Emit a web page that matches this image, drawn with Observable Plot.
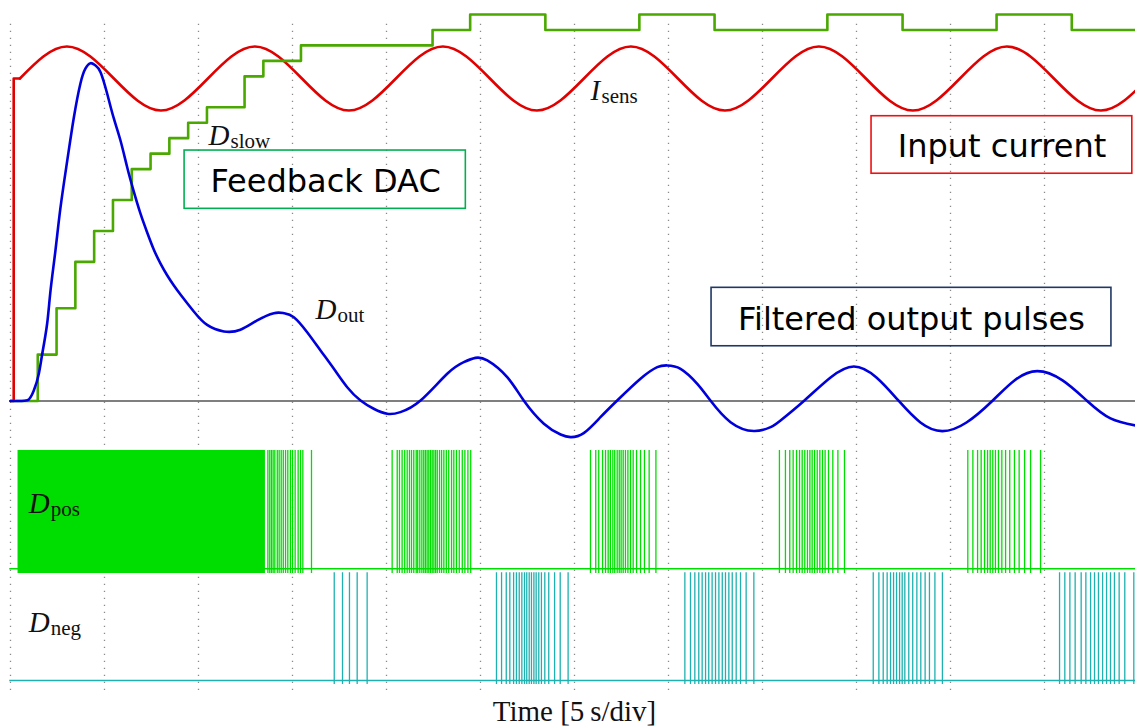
<!DOCTYPE html>
<html><head><meta charset="utf-8">
<script src="https://cdn.jsdelivr.net/npm/d3@7"></script>
<script src="https://cdn.jsdelivr.net/npm/@observablehq/plot@0.6"></script>
<style>html,body{margin:0;padding:0;background:#fff;overflow:hidden;}</style>
</head><body><div id="chart"></div>
<script>
// time in seconds (5 s per division), amplitude in DAC code units
const gridTicks = [0,5,10,15,20,25,30,35,40,45,50,55];

const iSensStart = [[0,0],[0.17,0],[0.17,20.86],[0.5,20.86]];
const iSens = [[0.5,20.86],[3,22.93],[5.5,20.86],[8,18.79],[10.5,20.86],[13,22.93],[15.5,20.86],[18,18.79],
  [20.5,20.86],[23,22.93],[25.5,20.86],[28,18.79],[30.5,20.86],[33,22.93],[35.5,20.86],[38,18.79],
  [40.5,20.86],[43,22.93],[45.5,20.86],[48,18.79],[50.5,20.86],[53,22.93],[55.5,20.86],[58,18.79],[60.5,20.86]];

const dSlow = [[0,0],[1.45,3],[2.45,6],[3.45,9],[4.45,11],[5.45,13],[6.45,15],[7.45,16],[8.45,17],[9.45,18],
  [10.45,19],[12.45,21],[13.45,22],[15.45,23],[22.45,24],[24.45,25],[28.45,24],[33.45,25],[37.45,24],
  [43.45,25],[47.45,24],[52.45,25],[56.45,24],[59.84,24]];

const dOutRise = [[0,0],[0.6,0],[0.9,0.05],[1.24,0.68],[1.51,1.78],[1.69,3.07]];
const dOut = [[1.69,3.07],[1.95,5.01],[2.13,7.15],[2.39,9.73],
  [2.66,12.52],[3.02,15.56],[3.37,18.34],[3.72,20.54],[3.99,21.51],[4.26,21.85],[4.52,21.7],[4.79,21.27],
  [5.14,19.89],[5.48,18.34],[5.85,16.85],[6.21,15.1],[6.54,13.62],[6.91,12.13],[7.27,10.9],[7.62,9.8],
  [7.98,8.89],[8.34,8.12],[8.69,7.47],[9.04,6.89],[9.75,5.79],[10.46,4.92],[11.35,4.5],[12.23,4.61],[13.12,5.21],[14.01,5.68],
  [14.54,5.68],[15.07,5.42],[15.78,4.45],[16.49,3.27],[17.2,2.08],[17.91,0.89],[18.62,0.03],[19.32,-0.5],
  [20.04,-0.83],[20.74,-0.72],[21.81,0.03],[23.23,1.76],[24.11,2.51],[24.73,2.79],[25.36,2.62],[26.42,1.54],
  [27.3,0.03],[28.37,-1.47],[29.26,-2.17],[29.79,-2.34],[30.49,-2.08],[31.38,-1.05],[32.27,0.03],[33.51,1.44],
  [34.4,2.19],[34.93,2.3],[35.64,2.08],[36.53,1.11],[37.23,0.03],[38.3,-1.37],[39.54,-1.94],[40.43,-1.69],
  [40.96,-1.26],[42.2,0],[43.62,1.52],[44.86,2.23],[46.06,1.52],[47.25,0],[48.4,-1.39],[49.56,-1.95],
  [50.85,-1.39],[52.22,0],[53.4,1.33],[54.61,1.93],[55.96,1.33],[57.27,0],[58.51,-1.13],[59.84,-1.58]];

const posDense = [[0.4,13.56]];
const posPulses = [
  13.69,13.79,13.88,13.97,14.06,14.19,14.29,14.40,14.51,14.63,14.75,14.89,15.0,15.14,15.30,15.43,15.55,16.01,
  20.30,20.57,20.69,20.83,20.97,21.10,21.22,21.33,21.45,21.58,21.66,21.77,21.88,21.98,22.07,22.16,22.25,22.34,
  22.43,22.52,22.61,22.70,22.82,22.93,23.05,23.18,23.31,23.46,23.58,23.72,23.87,24.03,24.17,24.33,24.48,
  30.85,31.13,31.29,31.49,31.65,31.79,31.91,32.04,32.14,32.27,32.38,32.48,32.59,32.71,32.84,32.98,33.12,33.30,
  33.51,33.72,33.97,34.33,
  40.90,41.22,41.45,41.63,41.81,41.97,42.11,42.25,42.39,42.52,42.64,42.77,42.91,43.05,43.19,43.33,43.51,43.74,
  44.01,44.36,
  50.92,51.19,51.44,51.63,51.81,51.97,52.11,52.25,52.39,52.55,52.73,52.93,53.15,53.40,53.65,53.94,54.26,54.79];
const negPulses = [
  17.22,17.66,18.03,18.44,18.97,
  25.85,26.12,26.37,26.56,26.76,26.91,27.06,27.20,27.34,27.46,27.59,27.71,27.84,27.96,28.10,28.24,28.42,28.63,
  28.94,29.24,29.66,
  35.87,36.17,36.40,36.61,36.79,36.97,37.14,37.32,37.50,37.68,37.86,38.03,38.21,38.39,38.60,38.83,39.13,39.54,
  45.89,46.19,46.42,46.63,46.81,46.97,47.13,47.29,47.43,47.57,47.78,47.99,48.21,48.42,48.65,48.88,49.17,49.57,
  55.80,56.08,56.35,56.63,56.95,57.20,57.45,57.66,57.87,58.09,58.30,58.51,58.72,58.97,59.27,59.75];

const boxTexts = ["Feedback DAC", "Input current", "Filtered output pulses"];
const boxAnchors = [[16.76,13.51],[52.74,15.77],[47.92,4.61]];
const boxExtents = [[9.26,24.22,12.43,16.2],[45.8,59.67,14.7,18.42],[37.29,58.56,3.54,7.32]];
const boxColors = ["#00b050","#ee1111","#1f3864"];

const mathMain = ["D","I","D","D","D"];
const mathSub = ["slow","sens","out","pos","neg"];
const mathAnchors = [[10.53,16.53],[30.85,19.47],[16.22,5.32],[0.97,-7.26],[0.97,-14.95]];

const xLabel = "Time [5\u2009s/div]";

// layout constants
const lanePos = {base:-10.85, lo:-11.16, hi:-3.2};
const laneNeg = {base:-18.08, lo:-18.34, hi:-11.11};
const gridSpan = {lo:-18.73, hi:24.61};

const boxes = boxTexts.map((text,i)=>({text, t:boxAnchors[i][0], v:boxAnchors[i][1],
  t1:boxExtents[i][0], t2:boxExtents[i][1], v1:boxExtents[i][2], v2:boxExtents[i][3], color:boxColors[i]}));
const labels = mathMain.map((m,i)=>({main:m, sub:mathSub[i], t:mathAnchors[i][0], v:mathAnchors[i][1]}));
const serif = "'Liberation Serif', 'DejaVu Serif', serif";
const sans = "'DejaVu Sans', Verdana, sans-serif";
const subStyle = {x: "t", y: "v", text: "sub", fontSize: 21, fontFamily: serif, fill: "#111", textAnchor: "start", lineAnchor: "bottom", dy: 3};

const chart = Plot.plot({
  width: 1135, height: 727,
  marginLeft: 10, marginRight: 0, marginTop: 0, marginBottom: 0,
  x: {domain: [0, 59.84], axis: null},
  y: {domain: [-21.12, 25.905], axis: null},
  marks: [
    Plot.ruleX(gridTicks, {x: d=>d, y1: gridSpan.lo, y2: gridSpan.hi, stroke: "#8a8a8a", strokeWidth: 1.3, strokeDasharray: "1.3,5.7"}),
    Plot.ruleY([0], {stroke: "#555", strokeWidth: 1.3}),
    Plot.line(iSensStart, {x: d=>d[0], y: d=>d[1], stroke: "#e00000", strokeWidth: 2.6}),
    Plot.line(iSens, {x: d=>d[0], y: d=>d[1], stroke: "#e00000", strokeWidth: 2.6, curve: "natural", clip: true}),
    Plot.line(dSlow, {x: d=>d[0], y: d=>d[1], stroke: "#4aa800", strokeWidth: 2.6, curve: "step-after"}),
    Plot.line(dOutRise, {x: d=>d[0], y: d=>d[1], stroke: "#0000dd", strokeWidth: 2.6, curve: "monotone-x"}),
    Plot.line(dOut, {x: d=>d[0], y: d=>d[1], stroke: "#0000dd", strokeWidth: 2.6, curve: "natural"}),
    // pulse lanes
    Plot.rect(posDense, {x1: d=>d[0], x2: d=>d[1], y1: lanePos.lo, y2: lanePos.hi, fill: "#00dd00"}),
    Plot.ruleX(posPulses, {x: d=>d, y1: lanePos.lo, y2: lanePos.hi, stroke: "#00dd00", strokeWidth: 1.3}),
    Plot.ruleY([lanePos.base], {x1: -0.04, x2: 59.84, stroke: "#00dd00", strokeWidth: 1.6}),
    Plot.ruleX(negPulses, {x: d=>d, y1: laneNeg.lo, y2: laneNeg.hi, stroke: "#1fb0b0", strokeWidth: 1.3}),
    Plot.ruleY([laneNeg.base], {x1: -0.04, x2: 59.84, stroke: "#1fb0b0", strokeWidth: 1.6}),
    // boxes
    Plot.rect(boxes, {x1: "t1", x2: "t2", y1: "v1", y2: "v2", fill: "none", stroke: "color", strokeWidth: 1.6}),
    Plot.text(boxes, {x: "t", y: "v", text: "text", fontSize: 32, fontFamily: sans, fill: "#000", textAnchor: "middle", lineAnchor: "bottom"}),
    // math labels
    Plot.text(labels, {x: "t", y: "v", text: "main", fontSize: 29, fontFamily: serif, fontStyle: "italic", fill: "#111", textAnchor: "start", lineAnchor: "bottom"}),
    Plot.text(labels, {...subStyle, filter: d => d.main === "D", dx: 22}),
    Plot.text(labels, {...subStyle, filter: d => d.main === "I", dx: 11}),
    Plot.text([xLabel], {x: 30, frameAnchor: "bottom", text: d=>d, fontSize: 29, fontFamily: serif, fill: "#111", textAnchor: "middle", lineAnchor: "bottom", dy: -7})
  ]
});
document.getElementById("chart").appendChild(chart);
</script></body></html>
